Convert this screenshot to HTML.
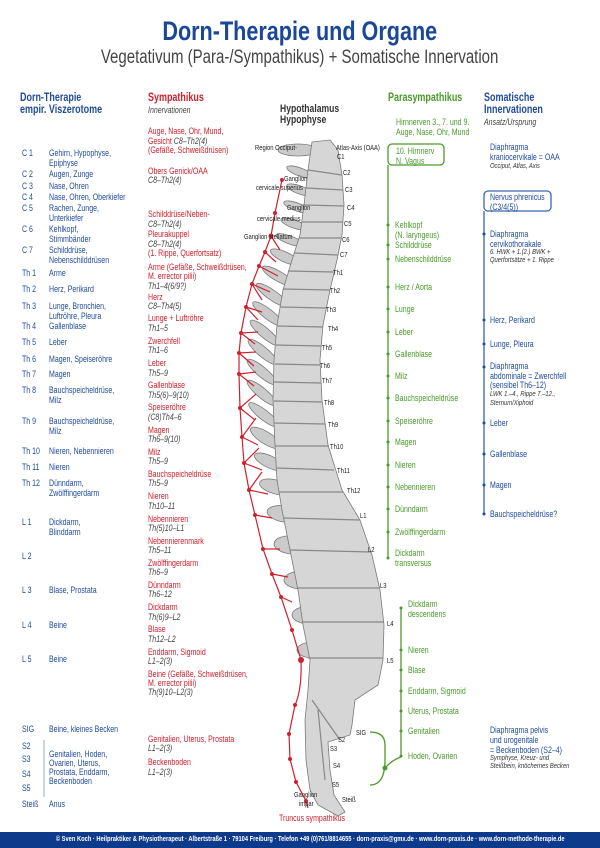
<!DOCTYPE html>
<html><head><meta charset="utf-8">
<style>
*{margin:0;padding:0;box-sizing:border-box}
body{width:600px;height:848px;background:#fff;position:relative;overflow:hidden;font-family:"Liberation Sans",sans-serif}
.t{position:absolute;white-space:nowrap;line-height:10px;font-size:9px;transform:scaleX(.78);transform-origin:0 0}
.b{color:#1f4a9c}.r{color:#d0202c}.g{color:#4a9a2a}.k{color:#333}
.i{font-style:italic;color:#444}
.h{font-weight:bold;font-size:11.5px;line-height:12px}
.s{font-size:7.5px;font-style:italic;color:#333}
.d{font-size:7.5px;color:#222}
</style></head><body>
<div style="position:absolute;left:0;width:600px;top:16px;text-align:center;font-weight:bold;font-size:27px;color:#1a4799;line-height:30px;white-space:nowrap"><span style="display:inline-block;transform:scaleX(.8)">Dorn-Therapie und Organe</span></div>
<div style="position:absolute;left:0;width:600px;top:48px;text-align:center;font-size:19px;color:#444;line-height:20px;white-space:nowrap"><span style="display:inline-block;transform:scaleX(.79)">Vegetativum (Para-/Sympathikus) + Somatische Innervation</span></div>

<svg style="position:absolute;left:0;top:0" width="600" height="848">
<g fill="#d6d6d6" stroke="#7a7a7a" stroke-width="0.8">
<g fill="#cacaca">
<ellipse cx="298" cy="150" rx="20" ry="6"/>
<ellipse cx="300" cy="172" rx="14" ry="4" transform="rotate(20 300 172)"/>
<ellipse cx="300" cy="190" rx="14" ry="4" transform="rotate(20 300 190)"/>
<ellipse cx="297" cy="207" rx="14" ry="4" transform="rotate(20 297 207)"/>
<ellipse cx="294" cy="224" rx="14" ry="4" transform="rotate(20 294 224)"/>
<ellipse cx="290" cy="240" rx="15" ry="4" transform="rotate(20 290 240)"/>
<ellipse cx="285" cy="257" rx="16" ry="5" transform="rotate(25 285 257)"/>
<ellipse cx="278" cy="276" rx="18" ry="5" transform="rotate(30 278 276)"/>
<ellipse cx="272" cy="295" rx="19" ry="5" transform="rotate(35 272 295)"/>
<ellipse cx="268" cy="314" rx="19" ry="5" transform="rotate(38 268 314)"/>
<ellipse cx="265" cy="333" rx="19" ry="5" transform="rotate(40 265 333)"/>
<ellipse cx="263" cy="352" rx="19" ry="5" transform="rotate(40 263 352)"/>
<ellipse cx="262" cy="372" rx="19" ry="5" transform="rotate(40 262 372)"/>
<ellipse cx="262" cy="393" rx="19" ry="5" transform="rotate(40 262 393)"/>
<ellipse cx="264" cy="415" rx="19" ry="5" transform="rotate(38 264 415)"/>
<ellipse cx="266" cy="438" rx="18" ry="6" transform="rotate(32 266 438)"/>
<ellipse cx="270" cy="462" rx="17" ry="6" transform="rotate(25 270 462)"/>
<ellipse cx="276" cy="487" rx="17" ry="7" transform="rotate(15 276 487)"/>
<ellipse cx="284" cy="514" rx="17" ry="8" transform="rotate(10 284 514)"/>
<ellipse cx="292" cy="545" rx="18" ry="9" transform="rotate(5 292 545)"/>
<ellipse cx="302" cy="580" rx="18" ry="9"/>
<ellipse cx="310" cy="615" rx="18" ry="9"/>
<ellipse cx="313" cy="650" rx="16" ry="8"/>
</g>
<path d="M312 142 L330 140 L338 150 L342 175 L344 205 L342 235 L337 260 L330 290 L323 325 L320 360 L322 400 L328 445 L342 490 L360 520 L372 555 L380 590 L384 625 L383 660 L378 685 L355 700 L352 725 L350 735 L328 742 L330 770 L334 795 L345 812 L338 816 L318 805 L310 790 L306 760 L305 720 L308 690 L310 660 L303 625 L298 590 L290 550 L282 510 L277 480 L275 445 L273 400 L274 360 L277 325 L283 290 L292 260 L300 235 L304 205 L308 170 Z"/>
</g>
<g stroke="#888" stroke-width="1.2" fill="none">
<path d="M308 170 L342 175 M306 188 L343 190 M304 205 L344 206 M302 222 L343 222 M299 238 L341 238 M294 253 L338 255 M288 271 L333 272 M283 289 L330 290 M280 307 L326 308 M277 326 L323 327 M276 345 L321 346 M275 364 L320 365 M274 382 L321 383 M274 401 L322 402 M274 423 L325 424 M275 446 L329 446 M277 468 L334 470 M279 492 L343 492 M284 518 L360 520 M290 550 L371 552 M298 588 L380 588 M303 622 L384 622 M308 658 L383 658 M312 700 L340 740 M318 710 L325 780"/>
</g>
<g stroke="#d0202c" stroke-width="1.2" fill="none">
<path d="M282 180 L275 213 L271 236 L265 252 L259 266 L252 284 L246 307 L241 333 L239 353 L239 374 L240 408 L242 437 L244 463 L249 490 L255 515 L263 549 L272 574 L281 597 L292 630 L301 660 Q302 690 295 705 L289 734 L290 759 L296 782 L306 801 L308 808"/>
<path d="M271 236 L280 250 M265 252 L276 262 M259 266 L278 276 M252 284 L262 300 M252 284 L270 292 M246 307 L258 320 M246 307 L262 312 M241 333 L255 344 M241 333 L258 332 M239 353 L254 366 M239 353 L256 352 M239 374 L254 386 M239 374 L256 372 M240 408 L255 420 M240 408 L256 394 M242 437 L258 445 M242 437 L256 418 M244 463 L262 470 M244 463 L259 448 M249 490 L268 494 M249 490 L262 472 M255 515 L272 518 M263 549 L280 549 M272 574 L288 577 M281 597 L292 602"/>
</g>
<g fill="#d0202c">
<circle cx="282" cy="180" r="2"/><circle cx="275" cy="213" r="2"/><circle cx="271" cy="236" r="2.5"/><circle cx="265" cy="252" r="2"/><circle cx="259" cy="266" r="2"/><circle cx="252" cy="284" r="2"/><circle cx="246" cy="307" r="2"/><circle cx="241" cy="333" r="2"/><circle cx="239" cy="353" r="2"/><circle cx="239" cy="374" r="2"/><circle cx="240" cy="408" r="2"/><circle cx="242" cy="437" r="2"/><circle cx="244" cy="463" r="2"/><circle cx="249" cy="490" r="2"/><circle cx="255" cy="515" r="2"/><circle cx="263" cy="549" r="2"/><circle cx="272" cy="574" r="2"/><circle cx="281" cy="597" r="2"/><circle cx="292" cy="630" r="2"/><circle cx="301" cy="660" r="3"/><circle cx="295" cy="705" r="2"/><circle cx="289" cy="734" r="2"/><circle cx="290" cy="759" r="2"/><circle cx="296" cy="782" r="2"/><circle cx="306" cy="801" r="2"/>
</g>
<g stroke="#4a9a2a" stroke-width="1.3" fill="none">
<rect x="388" y="144" width="56" height="21" rx="4"/>
<path d="M388 165 L388 558"/>
<path d="M401 608 L401 757"/>
<path d="M370 732 Q385 732 385 745 L385 760 Q385 785 370 785 M385 768 Q392 760 401 757"/>
</g>
<g fill="#4a9a2a">
<circle cx="388" cy="225" r="1.5"/><circle cx="388" cy="245" r="1.5"/><circle cx="388" cy="259" r="1.5"/><circle cx="388" cy="287" r="1.5"/><circle cx="388" cy="309" r="1.5"/><circle cx="388" cy="332" r="1.5"/><circle cx="388" cy="354" r="1.5"/><circle cx="388" cy="376" r="1.5"/><circle cx="388" cy="398" r="1.5"/><circle cx="388" cy="421" r="1.5"/><circle cx="388" cy="442" r="1.5"/><circle cx="388" cy="465" r="1.5"/><circle cx="388" cy="487" r="1.5"/><circle cx="388" cy="509" r="1.5"/><circle cx="388" cy="532" r="1.5"/><circle cx="388" cy="558" r="1.5"/>
<circle cx="401" cy="608" r="1.5"/><circle cx="401" cy="650" r="1.5"/><circle cx="401" cy="670" r="1.5"/><circle cx="401" cy="691" r="1.5"/><circle cx="401" cy="711" r="1.5"/><circle cx="401" cy="731" r="1.5"/><circle cx="401" cy="756" r="1.5"/><circle cx="385" cy="768" r="2.5"/>
</g>
<g stroke="#3a64b4" stroke-width="1.3" fill="none">
<rect x="484" y="191" width="67" height="20" rx="4"/>
<path d="M484 211 L484 515"/>
</g>
<g fill="#1f4a9c">
<circle cx="484" cy="234" r="1.5"/><circle cx="484" cy="320" r="1.5"/><circle cx="484" cy="344" r="1.5"/><circle cx="484" cy="367" r="1.5"/><circle cx="484" cy="423" r="1.5"/><circle cx="484" cy="454" r="1.5"/><circle cx="484" cy="485" r="1.5"/><circle cx="484" cy="514" r="1.5"/>
</g>
<line x1="44" y1="740" x2="44" y2="797" stroke="#9aaad0" stroke-width="1"/>
<rect x="0" y="832" width="600" height="16" fill="#0e3a8c"/>
</svg>

<div class="t b h" style="left:20px;top:92px">Dorn-Therapie<br>empir. Viszerotome</div>
<div class="t b" style="left:22px;top:148px">C 1</div><div class="t b" style="left:49px;top:148px">Gehirn, Hypophyse,<br>Epiphyse</div>
<div class="t b" style="left:22px;top:169px">C 2</div><div class="t b" style="left:49px;top:169px">Augen, Zunge</div>
<div class="t b" style="left:22px;top:181px">C 3</div><div class="t b" style="left:49px;top:181px">Nase, Ohren</div>
<div class="t b" style="left:22px;top:192px">C 4</div><div class="t b" style="left:49px;top:192px">Nase, Ohren, Oberkiefer</div>
<div class="t b" style="left:22px;top:203px">C 5</div><div class="t b" style="left:49px;top:203px">Rachen, Zunge,<br>Unterkiefer</div>
<div class="t b" style="left:22px;top:224px">C 6</div><div class="t b" style="left:49px;top:224px">Kehlkopf,<br>Stimmbänder</div>
<div class="t b" style="left:22px;top:245px">C 7</div><div class="t b" style="left:49px;top:245px">Schilddrüse,<br>Nebenschilddrüsen</div>
<div class="t b" style="left:22px;top:268px">Th 1</div><div class="t b" style="left:49px;top:268px">Arme</div>
<div class="t b" style="left:22px;top:284px">Th 2</div><div class="t b" style="left:49px;top:284px">Herz, Perikard</div>
<div class="t b" style="left:22px;top:301px">Th 3</div><div class="t b" style="left:49px;top:301px">Lunge, Bronchien,<br>Luftröhre, Pleura</div>
<div class="t b" style="left:22px;top:321px">Th 4</div><div class="t b" style="left:49px;top:321px">Gallenblase</div>
<div class="t b" style="left:22px;top:337px">Th 5</div><div class="t b" style="left:49px;top:337px">Leber</div>
<div class="t b" style="left:22px;top:354px">Th 6</div><div class="t b" style="left:49px;top:354px">Magen, Speiseröhre</div>
<div class="t b" style="left:22px;top:369px">Th 7</div><div class="t b" style="left:49px;top:369px">Magen</div>
<div class="t b" style="left:22px;top:385px">Th 8</div><div class="t b" style="left:49px;top:385px">Bauchspeicheldrüse,<br>Milz</div>
<div class="t b" style="left:22px;top:416px">Th 9</div><div class="t b" style="left:49px;top:416px">Bauchspeicheldrüse,<br>Milz</div>
<div class="t b" style="left:22px;top:446px">Th 10</div><div class="t b" style="left:49px;top:446px">Nieren, Nebennieren</div>
<div class="t b" style="left:22px;top:462px">Th 11</div><div class="t b" style="left:49px;top:462px">Nieren</div>
<div class="t b" style="left:22px;top:478px">Th 12</div><div class="t b" style="left:49px;top:478px">Dünndarm,<br>Zwölffingerdarm</div>
<div class="t b" style="left:22px;top:517px">L 1</div><div class="t b" style="left:49px;top:517px">Dickdarm,<br>Blinddarm</div>
<div class="t b" style="left:22px;top:551px">L 2</div>
<div class="t b" style="left:22px;top:585px">L 3</div><div class="t b" style="left:49px;top:585px">Blase, Prostata</div>
<div class="t b" style="left:22px;top:620px">L 4</div><div class="t b" style="left:49px;top:620px">Beine</div>
<div class="t b" style="left:22px;top:654px">L 5</div><div class="t b" style="left:49px;top:654px">Beine</div>
<div class="t b" style="left:22px;top:724px">SIG</div><div class="t b" style="left:49px;top:724px">Beine, kleines Becken</div>
<div class="t b" style="left:22px;top:741px">S2</div>
<div class="t b" style="left:22px;top:754px">S3</div>
<div class="t b" style="left:22px;top:769px">S4</div>
<div class="t b" style="left:22px;top:783px">S5</div>
<div class="t b" style="left:49px;top:750px;line-height:9px">Genitalien, Hoden,<br>Ovarien, Uterus,<br>Prostata, Enddarm,<br>Beckenboden</div>
<div class="t b" style="left:22px;top:799px">Steiß</div><div class="t b" style="left:49px;top:799px">Anus</div>

<div class="t r h" style="left:148px;top:92px">Sympathikus</div>
<div class="t i" style="left:148px;top:105px">Innervationen</div>
<div class="t r" style="left:148px;top:127px;line-height:9.7px">Auge, Nase, Ohr, Mund,<br>Gesicht <i class="i">C8–Th2(4)</i><br>(Gefäße, Schweißdrüsen)</div>
<div class="t r" style="left:148px;top:166px">Obers Genick/OAA</div><div class="t i" style="left:148px;top:175px">C8–Th2(4)</div>
<div class="t r" style="left:148px;top:209px">Schilddrüse/Neben-</div><div class="t i" style="left:148px;top:219px">C8–Th2(4)</div>
<div class="t r" style="left:148px;top:229px">Pleurakuppel</div><div class="t i" style="left:148px;top:239px">C8–Th2(4)</div>
<div class="t r" style="left:148px;top:248px">(1. Rippe, Querfortsatz)</div>
<div class="t r" style="left:148px;top:262px">Arme (Gefäße, Schweißdrüsen,</div><div class="t r" style="left:148px;top:271px">M. errector pilii)</div><div class="t i" style="left:148px;top:281px">Th1–4(6/9?)</div>
<div class="t r" style="left:148px;top:292px">Herz</div><div class="t i" style="left:148px;top:301px">C8–Th4(5)</div>
<div class="t r" style="left:148px;top:313px">Lunge + Luftröhre</div><div class="t i" style="left:148px;top:323px">Th1–5</div>
<div class="t r" style="left:148px;top:336px">Zwerchfell</div><div class="t i" style="left:148px;top:345px">Th1–6</div>
<div class="t r" style="left:148px;top:358px">Leber</div><div class="t i" style="left:148px;top:368px">Th5–9</div>
<div class="t r" style="left:148px;top:380px">Gallenblase</div><div class="t i" style="left:148px;top:390px">Th5(6)–9(10)</div>
<div class="t r" style="left:148px;top:402px">Speiseröhre</div><div class="t i" style="left:148px;top:412px">(C8)Th4–6</div>
<div class="t r" style="left:148px;top:425px">Magen</div><div class="t i" style="left:148px;top:434px">Th6–9(10)</div>
<div class="t r" style="left:148px;top:447px">Milz</div><div class="t i" style="left:148px;top:456px">Th5–9</div>
<div class="t r" style="left:148px;top:469px">Bauchspeicheldrüse</div><div class="t i" style="left:148px;top:478px">Th5–9</div>
<div class="t r" style="left:148px;top:491px">Nieren</div><div class="t i" style="left:148px;top:501px">Th10–11</div>
<div class="t r" style="left:148px;top:514px">Nebennieren</div><div class="t i" style="left:148px;top:523px">Th(5)10–L1</div>
<div class="t r" style="left:148px;top:536px">Nebennierenmark</div><div class="t i" style="left:148px;top:545px">Th5–11</div>
<div class="t r" style="left:148px;top:558px">Zwölffingerdarm</div><div class="t i" style="left:148px;top:567px">Th6–9</div>
<div class="t r" style="left:148px;top:580px">Dünndarm</div><div class="t i" style="left:148px;top:589px">Th6–12</div>
<div class="t r" style="left:148px;top:602px">Dickdarm</div><div class="t i" style="left:148px;top:612px">Th(6)9–L2</div>
<div class="t r" style="left:148px;top:624px">Blase</div><div class="t i" style="left:148px;top:634px">Th12–L2</div>
<div class="t r" style="left:148px;top:647px">Enddarm, Sigmoid</div><div class="t i" style="left:148px;top:656px">L1–2(3)</div>
<div class="t r" style="left:148px;top:669px">Beine (Gefäße, Schweißdrüsen,</div><div class="t r" style="left:148px;top:678px">M. errector pilii)</div><div class="t i" style="left:148px;top:687px">Th(9)10–L2(3)</div>
<div class="t r" style="left:148px;top:734px">Genitalien, Uterus, Prostata</div><div class="t i" style="left:148px;top:743px">L1–2(3)</div>
<div class="t r" style="left:148px;top:757px">Beckenboden</div><div class="t i" style="left:148px;top:767px">L1–2(3)</div>

<div class="t k" style="left:280px;top:104px;font-weight:bold;font-size:11px;line-height:11px">Hypothalamus<br>Hypophyse</div>
<div class="t d" style="left:255px;top:143px">Region Occiput-</div>
<div class="t d" style="left:336px;top:143px">Atlas-Axis (OAA)</div>
<div class="t d" style="left:337px;top:152px">C1</div>
<div class="t d" style="left:343px;top:168px">C2</div>
<div class="t d" style="left:345px;top:185px">C3</div>
<div class="t d" style="left:347px;top:203px">C4</div>
<div class="t d" style="left:344px;top:219px">C5</div>
<div class="t d" style="left:342px;top:235px">C6</div>
<div class="t d" style="left:340px;top:250px">C7</div>
<div class="t d" style="left:333px;top:268px">Th1</div>
<div class="t d" style="left:330px;top:286px">Th2</div>
<div class="t d" style="left:326px;top:305px">Th3</div>
<div class="t d" style="left:328px;top:324px">Th4</div>
<div class="t d" style="left:322px;top:343px">Th5</div>
<div class="t d" style="left:320px;top:361px">Th6</div>
<div class="t d" style="left:322px;top:376px">Th7</div>
<div class="t d" style="left:324px;top:398px">Th8</div>
<div class="t d" style="left:328px;top:420px">Th9</div>
<div class="t d" style="left:330px;top:442px">Th10</div>
<div class="t d" style="left:337px;top:466px">Th11</div>
<div class="t d" style="left:347px;top:486px">Th12</div>
<div class="t d" style="left:360px;top:511px">L1</div>
<div class="t d" style="left:368px;top:545px">L2</div>
<div class="t d" style="left:380px;top:581px">L3</div>
<div class="t d" style="left:387px;top:619px">L4</div>
<div class="t d" style="left:387px;top:656px">L5</div>
<div class="t d" style="left:356px;top:728px">SIG</div>
<div class="t d" style="left:338px;top:735px">S2</div>
<div class="t d" style="left:330px;top:744px">S3</div>
<div class="t d" style="left:333px;top:761px">S4</div>
<div class="t d" style="left:332px;top:780px">S5</div>
<div class="t d" style="left:342px;top:795px">Steiß</div>
<div class="t d" style="left:284px;top:174px">Ganglion</div>
<div class="t d" style="left:256px;top:183px">cervicale superius</div>
<div class="t d" style="left:287px;top:203px">Ganglion</div>
<div class="t d" style="left:257px;top:214px">cervicale medius</div>
<div class="t d" style="left:244px;top:232px">Ganglion stellatum</div>
<div class="t d" style="left:294px;top:790px">Ganglion</div>
<div class="t d" style="left:299px;top:799px">impar</div>
<div class="t r" style="left:279px;top:813px">Truncus sympathikus</div>

<div class="t g h" style="left:388px;top:92px">Parasympathikus</div>
<div class="t g" style="left:396px;top:117px">Hirnnerven 3., 7. und 9.<br>Auge, Nase, Ohr, Mund</div>
<div class="t g" style="left:396px;top:146px">10. Hirnnerv<br>N. Vagus</div>
<div class="t g" style="left:395px;top:220px">Kehlkopf<br>(N. laryngeus)</div>
<div class="t g" style="left:395px;top:240px">Schilddrüse</div>
<div class="t g" style="left:395px;top:254px">Nebenschilddrüse</div>
<div class="t g" style="left:395px;top:282px">Herz / Aorta</div>
<div class="t g" style="left:395px;top:304px">Lunge</div>
<div class="t g" style="left:395px;top:327px">Leber</div>
<div class="t g" style="left:395px;top:349px">Gallenblase</div>
<div class="t g" style="left:395px;top:371px">Milz</div>
<div class="t g" style="left:395px;top:393px">Bauchspeicheldrüse</div>
<div class="t g" style="left:395px;top:416px">Speiseröhre</div>
<div class="t g" style="left:395px;top:437px">Magen</div>
<div class="t g" style="left:395px;top:460px">Nieren</div>
<div class="t g" style="left:395px;top:482px">Nebennieren</div>
<div class="t g" style="left:395px;top:504px">Dünndarm</div>
<div class="t g" style="left:395px;top:527px">Zwölffingerdarm</div>
<div class="t g" style="left:395px;top:548px">Dickdarm<br>transversus</div>
<div class="t g" style="left:408px;top:599px">Dickdarm<br>descendens</div>
<div class="t g" style="left:408px;top:645px">Nieren</div>
<div class="t g" style="left:408px;top:665px">Blase</div>
<div class="t g" style="left:408px;top:686px">Enddarm, Sigmoid</div>
<div class="t g" style="left:408px;top:706px">Uterus, Prostata</div>
<div class="t g" style="left:408px;top:726px">Genitalien</div>
<div class="t g" style="left:408px;top:751px">Hoden, Ovarien</div>

<div class="t b h" style="left:484px;top:92px">Somatische<br>Innervationen</div>
<div class="t i" style="left:484px;top:117px">Ansatz/Ursprung</div>
<div class="t b" style="left:490px;top:142px">Diaphragma<br>kraniocervikale = OAA</div>
<div class="t s" style="left:490px;top:161px">Occiput, Atlas, Axis</div>
<div class="t b" style="left:490px;top:192px">Nervus phrenicus<br>(C3/4(5))</div>
<div class="t b" style="left:490px;top:229px">Diaphragma<br>cervikothorakale</div>
<div class="t s" style="left:490px;top:248px;line-height:8px">6. HWK + 1.(2.) BWK +<br>Querfortsätze + 1. Rippe</div>
<div class="t b" style="left:490px;top:315px">Herz, Perikard</div>
<div class="t b" style="left:490px;top:339px">Lunge, Pleura</div>
<div class="t b" style="left:490px;top:362px;line-height:9.5px">Diaphragma<br>abdominale = Zwerchfell<br>(sensibel Th6–12)</div>
<div class="t s" style="left:490px;top:390px;line-height:8.5px">LWK 1.–4., Rippe 7.–12.,<br>Sternum/Xiphoid</div>
<div class="t b" style="left:490px;top:418px">Leber</div>
<div class="t b" style="left:490px;top:449px">Gallenblase</div>
<div class="t b" style="left:490px;top:480px">Magen</div>
<div class="t b" style="left:490px;top:509px">Bauchspeicheldrüse?</div>
<div class="t b" style="left:490px;top:725px">Diaphragma pelvis<br>und urogenitale<br>= Beckenboden (S2–4)</div>
<div class="t s" style="left:490px;top:754px;line-height:8px">Symphyse, Kreuz- und<br>Steißbein, knöchernes Becken</div>

<div style="position:absolute;left:0;width:600px;top:835px;text-align:center;color:#fff;font-size:7px;font-weight:bold;line-height:10px;white-space:nowrap"><span style="display:inline-block;white-space:nowrap;transform:scaleX(.82)">© Sven Koch · Heilpraktiker &amp; Physiotherapeut · Albertstraße 1 · 79104 Freiburg · Telefon +49 (0)761/8814655 · dorn-praxis@gmx.de · www.dorn-praxis.de · www.dorn-methode-therapie.de</span></div>
</body></html>
